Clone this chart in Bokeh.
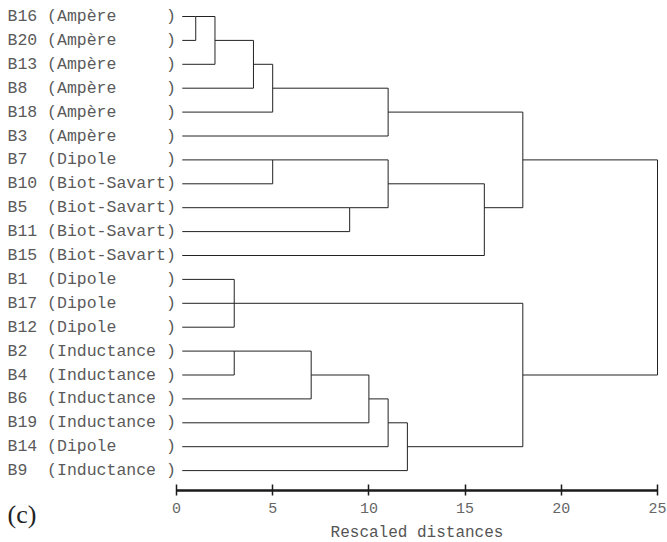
import math
from bokeh.plotting import figure
from bokeh.models import Range1d, FixedTicker, Label, ColumnDataSource
from bokeh.core.properties import value
from bokeh.embed import file_html
from bokeh.resources import INLINE

# ---------------- data ----------------
leaves = ["B16", "B20", "B13", "B8", "B18", "B3", "B7", "B10", "B5", "B11",
          "B15", "B1", "B17", "B12", "B2", "B4", "B6", "B19", "B14", "B9"]
groups = ["Ampère", "Ampère", "Ampère", "Ampère", "Ampère", "Ampère", "Dipole",
          "Biot-Savart", "Biot-Savart", "Biot-Savart", "Biot-Savart", "Dipole",
          "Dipole", "Dipole", "Inductance ", "Inductance ", "Inductance ",
          "Inductance ", "Dipole", "Inductance "]
# merges: (rescaled distance, members); "cN" refers to the N-th merge
merge_dist = [1, 2, 4, 5, 11, 5, 9, 11, 16, 18, 3, 3, 7, 10, 11, 12, 18, 25]
merge_members = [
    ["B16", "B20"], ["c0", "B13"], ["c1", "B8"], ["c2", "B18"], ["c3", "B3"],
    ["B7", "B10"], ["B5", "B11"], ["c5", "c6"], ["c7", "B15"], ["c4", "c8"],
    ["B1", "B17", "B12"], ["B2", "B4"], ["c11", "B6"], ["c12", "B19"],
    ["c13", "B14"], ["c14", "B9"], ["c10", "c15"], ["c9", "c16"],
]
ticks = [0, 5, 10, 15, 20, 25]
leaf_start = 0.3

# ---------------- layout constants ----------------
W, H = 667, 542
X0_PX, X25_PX = 176, 657
ROW0_PX, ROW_STEP = 16, 23.9
AXIS_PX = 490
ppu = (X25_PX - X0_PX) / 25.0

# ---------------- build dendrogram segments ----------------
row = {name: i for i, name in enumerate(leaves)}
start = {name: leaf_start for name in leaves}
x0s, y0s, x1s, y1s = [], [], [], []
for k, (d, mem) in enumerate(zip(merge_dist, merge_members)):
    rows = []
    for m in mem:
        x0s.append(start[m]); x1s.append(d)
        y0s.append(row[m]); y1s.append(row[m])
        rows.append(row[m])
    x0s.append(d); x1s.append(d)
    y0s.append(min(rows)); y1s.append(max(rows))
    cid = "c%d" % k
    row[cid] = (min(rows) + max(rows)) // 2
    start[cid] = d

src = ColumnDataSource(dict(x0=x0s, y0=y0s, x1=x1s, y1=y1s))

p = figure(width=W, height=H, output_backend="svg", toolbar_location=None,
           x_range=Range1d(-X0_PX / ppu, (W - X0_PX) / ppu),
           y_range=Range1d((H - ROW0_PX) / ROW_STEP, -ROW0_PX / ROW_STEP),
           y_axis_location=None,
           min_border_left=0, min_border_right=0, min_border_top=0,
           min_border_bottom=0)
p.outline_line_color = None
p.xgrid.visible = False
p.ygrid.visible = False
p.background_fill_color = "white"
p.border_fill_color = "white"

p.segment("x0", "y0", "x1", "y1", source=src, line_color="#222222", line_width=1)

NB = "\u00a0"
labels = [("%-4s(%-11s)" % (n, g)).replace(" ", NB) for n, g in zip(leaves, groups)]
lsrc = ColumnDataSource(dict(x=[-X0_PX / ppu + 7 / ppu] * len(leaves),
                             y=list(range(len(leaves))), t=labels))
p.text("x", "y", text="t", source=lsrc, text_font=value("Liberation Mono"),
       text_font_size="16.5px", text_color="#5a5a5a", text_baseline="middle",
       text_align="left")

ax = p.xaxis[0]
ax.fixed_location = (AXIS_PX - ROW0_PX) / ROW_STEP
ax.ticker = FixedTicker(ticks=ticks)
ax.bounds = (0, 25)
ax.axis_line_width = 2.5
ax.axis_line_color = "#1a1a1a"
ax.major_tick_line_width = 1.5
ax.major_tick_line_color = "#1a1a1a"
ax.major_tick_in = 6
ax.major_tick_out = 5
ax.minor_tick_line_color = None
ax.major_label_text_font = "Liberation Mono"
ax.major_label_text_font_size = "15px"
ax.major_label_text_color = "#666666"
ax.major_label_standoff = 7
ax.axis_label = "Rescaled distances"
ax.axis_label_text_font = "Liberation Mono"
ax.axis_label_text_font_size = "16px"
ax.axis_label_text_font_style = "normal"
ax.axis_label_text_color = "#555555"
ax.axis_label_standoff = 8

p.add_layout(Label(x=7, y=28, x_units="screen", y_units="screen", text="(c)",
                   text_font="Liberation Serif", text_font_size="26px",
                   text_color="#222222", text_baseline="middle"))

open("out.html", "w").write(file_html(p, INLINE))
